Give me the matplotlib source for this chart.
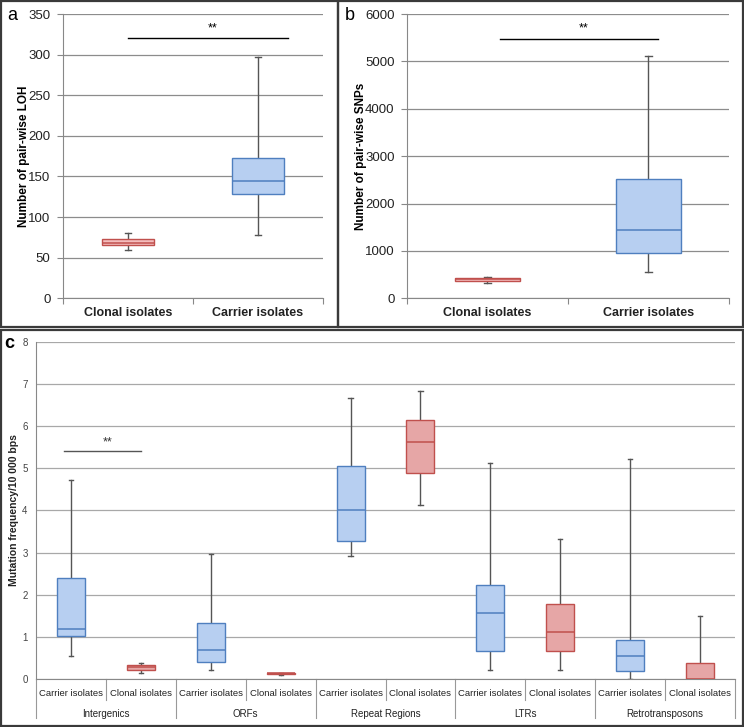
import matplotlib
matplotlib.use("Agg")
from matplotlib import pyplot as plt
from matplotlib.patches import Rectangle
import matplotlib.transforms as mtransforms

plt.rcParams['font.family'] = ['Liberation Sans', 'DejaVu Sans']

# panel a: pair-wise LOH
loh_labels = ["Clonal isolates", "Carrier isolates"]
loh_lo = [60, 78]
loh_q1 = [65.5, 128]
loh_med = [68, 145]
loh_q3 = [72.5, 173]
loh_hi = [81, 297]

# panel b: pair-wise SNPs
snp_labels = ["Clonal isolates", "Carrier isolates"]
snp_lo = [330, 562]
snp_q1 = [370, 950]
snp_med = [400, 1441]
snp_q3 = [430, 2524]
snp_hi = [455, 5113]

# panel c: mutation frequency per region
groups = ["Intergenics", "ORFs", "Repeat Regions", "LTRs", "Retrotransposons"]
carrier_lo = [0.55, 0.22, 2.91, 0.22, 0.0]
carrier_q1 = [1.02, 0.40, 3.28, 0.66, 0.19]
carrier_med = [1.20, 0.69, 4.01, 1.56, 0.56]
carrier_q3 = [2.40, 1.33, 5.05, 2.23, 0.92]
carrier_hi = [4.72, 2.97, 6.67, 5.12, 5.23]
clonal_lo = [0.15, 0.11, 4.13, 0.22, 0.0]
clonal_q1 = [0.22, 0.12, 4.88, 0.66, 0.0]
clonal_med = [0.28, 0.14, 5.63, 1.11, 0.0]
clonal_q3 = [0.35, 0.15, 6.14, 1.78, 0.38]
clonal_hi = [0.38, 0.16, 6.84, 3.32, 1.50]

BLUE_FILL = "#B7CFF1"
BLUE_EDGE = "#4F7FBF"
RED_FILL = "#E6A6A6"
RED_EDGE = "#C0504D"


def make_stats(lo, q1, med, q3, hi):
    return [dict(whislo=a, q1=b, med=c, q3=d, whishi=e, fliers=[])
            for a, b, c, d, e in zip(lo, q1, med, q3, hi)]


def draw_boxes(ax, stats, positions, fills, edges, width, capw):
    art = ax.bxp(stats, positions=positions, widths=width, capwidths=capw,
                 patch_artist=True, showfliers=False, manage_ticks=False)
    for i, box in enumerate(art['boxes']):
        box.set_facecolor(fills[i])
        box.set_edgecolor(edges[i])
        box.set_linewidth(1.0)
        box.set_zorder(3)
        art['medians'][i].set_color(edges[i])
        art['medians'][i].set_linewidth(1.1)
        art['medians'][i].set_zorder(4)
    for ln in art['whiskers'] + art['caps']:
        ln.set_color("#555555")
        ln.set_linewidth(1.0)
        ln.set_zorder(2)
    return art


def style_axes(ax, grid_color):
    ax.yaxis.grid(True, color=grid_color, linewidth=0.9)
    ax.set_axisbelow(True)
    for s in ["top", "right"]:
        ax.spines[s].set_visible(False)
    ax.spines["left"].set_color("#888888")
    ax.spines["bottom"].set_color("#888888")
    ax.tick_params(axis="y", colors="#888888", labelcolor="#222222", length=4)


fig = plt.figure(figsize=(7.44, 7.27), dpi=100)

# ---- panel a
ax_a = fig.add_axes([63 / 744, 1 - 298.3 / 727, 260 / 744, 284.3 / 727])
draw_boxes(ax_a, make_stats(loh_lo, loh_q1, loh_med, loh_q3, loh_hi), [0, 1],
           ["#F4BDBD", BLUE_FILL], [RED_EDGE, BLUE_EDGE], 0.4, 0.05)
ax_a.set_xlim(-0.5, 1.5)
ax_a.set_ylim(0, 350)
ax_a.set_yticks(range(0, 351, 50))
style_axes(ax_a, "#8C8C8C")
ax_a.set_xticks([-0.5, 0.5, 1.5])
ax_a.set_xticklabels([])
ax_a.tick_params(axis="x", colors="#888888", length=4)
for i, lab in enumerate(loh_labels):
    ax_a.text(i, -18.5, lab, ha="center", va="center", fontsize=9,
              fontweight="bold", color="#222222")
ax_a.set_ylabel("Number of pair-wise LOH", fontsize=8.5, fontweight="bold")
ax_a.yaxis.set_label_coords(-33 / 260, 0.5)
ax_a.tick_params(axis="y", labelsize=9.5, pad=5)
ax_a.plot([0.0, 1.23], [320, 320], color="black", linewidth=1.0)
ax_a.text(0.65, 332, "**", ha="center", va="center", fontsize=9)

# ---- panel b
ax_b = fig.add_axes([407 / 744, 1 - 298.3 / 727, 322 / 744, 284.3 / 727])
draw_boxes(ax_b, make_stats(snp_lo, snp_q1, snp_med, snp_q3, snp_hi), [0, 1],
           ["#F4BDBD", BLUE_FILL], [RED_EDGE, BLUE_EDGE], 0.4, 0.04)
ax_b.set_xlim(-0.5, 1.5)
ax_b.set_ylim(0, 6000)
ax_b.set_yticks(range(0, 6001, 1000))
style_axes(ax_b, "#8C8C8C")
ax_b.set_xticks([-0.5, 0.5, 1.5])
ax_b.set_xticklabels([])
ax_b.tick_params(axis="x", colors="#888888", length=4)
for i, lab in enumerate(snp_labels):
    ax_b.text(i, -317, lab, ha="center", va="center", fontsize=9,
              fontweight="bold", color="#222222")
ax_b.set_ylabel("Number of pair-wise SNPs", fontsize=8.5, fontweight="bold")
ax_b.yaxis.set_label_coords(-40 / 322, 0.5)
ax_b.tick_params(axis="y", labelsize=9.5, pad=5)
ax_b.plot([0.08, 1.06], [5466, 5466], color="black", linewidth=1.0)
ax_b.text(0.6, 5690, "**", ha="center", va="center", fontsize=9)

# ---- panel c
ax_c = fig.add_axes([36 / 744, 1 - 679.3 / 727, 699 / 744, 337.6 / 727])
stats_c = []
fills = []
edges = []
for g in range(len(groups)):
    stats_c += make_stats([carrier_lo[g]], [carrier_q1[g]], [carrier_med[g]],
                          [carrier_q3[g]], [carrier_hi[g]])
    stats_c += make_stats([clonal_lo[g]], [clonal_q1[g]], [clonal_med[g]],
                          [clonal_q3[g]], [clonal_hi[g]])
    fills += [BLUE_FILL, RED_FILL]
    edges += [BLUE_EDGE, RED_EDGE]
draw_boxes(ax_c, stats_c, list(range(2 * len(groups))), fills, edges, 0.4, 0.06)
ax_c.set_xlim(-0.5, 2 * len(groups) - 0.5)
ax_c.set_ylim(0, 8)
ax_c.set_yticks(range(0, 9))
style_axes(ax_c, "#A8A8A8")
ax_c.tick_params(axis="y", length=0, labelsize=7, pad=6, labelcolor="#444444")
ax_c.set_xticks([])
ax_c.set_ylabel("Mutation frequency/10 000 bps", fontsize=7.5,
                fontweight="semibold", color="#222222")
ax_c.yaxis.set_label_coords(-17 / 699, 0.5)

trans = mtransforms.blended_transform_factory(ax_c.transData, ax_c.transAxes)
for g, name in enumerate(groups):
    ax_c.text(2 * g, -0.042, "Carrier isolates", transform=trans, ha="center",
              va="center", fontsize=6.8, color="#222222")
    ax_c.text(2 * g + 1, -0.042, "Clonal isolates", transform=trans,
              ha="center", va="center", fontsize=6.8, color="#222222")
    ax_c.text(2 * g + 0.5, -0.104, name, transform=trans, ha="center",
              va="center", fontsize=7, color="#222222")
    ax_c.plot([2 * g + 0.5, 2 * g + 0.5], [0, -0.062], transform=trans,
              color="#999999", linewidth=0.8, clip_on=False)
for g in range(len(groups) + 1):
    ax_c.plot([2 * g - 0.5, 2 * g - 0.5], [0, -0.116], transform=trans,
              color="#999999", linewidth=0.8, clip_on=False)
ax_c.plot([-0.1, 1.0], [5.40, 5.40], color="#555555", linewidth=1.0)
ax_c.text(0.53, 5.62, "**", ha="center", va="center", fontsize=9,
          color="#333333")

# panel letters and frames
fig.text(12 / 744, 1 - 16 / 727, "a", fontsize=13, ha="center", va="center")
fig.text(350 / 744, 1 - 16 / 727, "b", fontsize=13, ha="center", va="center")
fig.text(9 / 744, 1 - 344 / 727, "c", fontsize=13, fontweight="bold",
         ha="center", va="center")
for x0, y0, x1, y1 in [(1, 1, 338, 327), (338, 1, 743, 327), (1, 330, 743, 726)]:
    fig.patches.append(Rectangle((x0 / 744, 1 - y1 / 727), (x1 - x0) / 744,
                                 (y1 - y0) / 727, transform=fig.transFigure,
                                 fill=False, edgecolor="#3A3A3A", linewidth=1.6))

fig.savefig("out.png", dpi=100)
